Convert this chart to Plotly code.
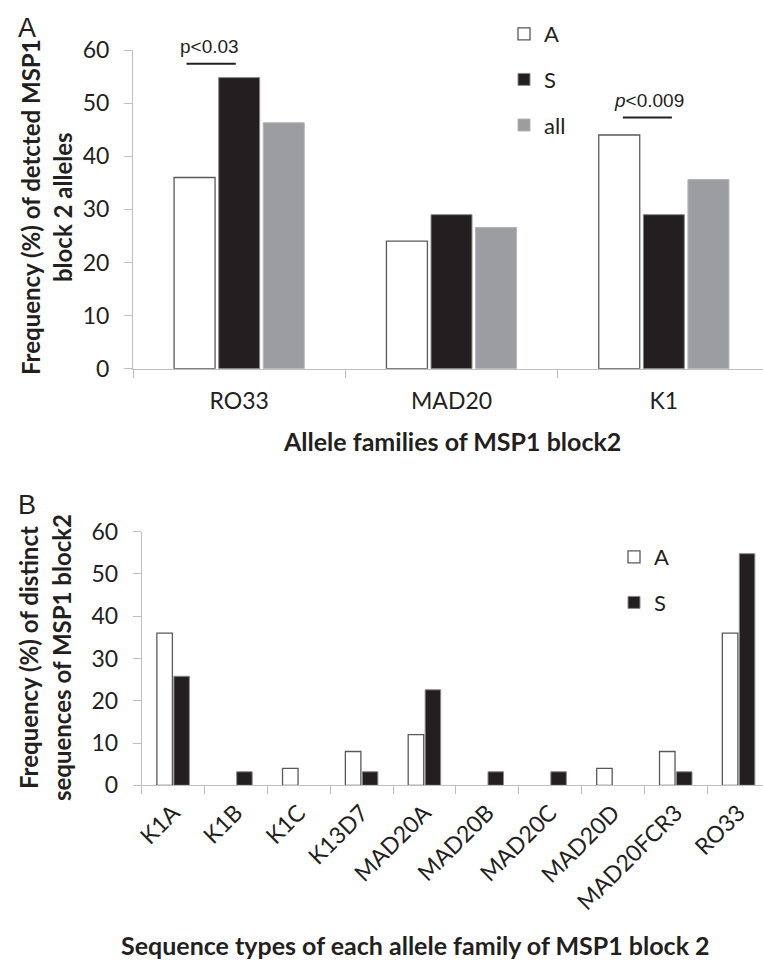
import plotly.graph_objects as go

# ---------------- data ----------------
families = ["RO33", "MAD20", "K1"]
fam_A = [36, 24, 44]
fam_S = [54.8, 29, 29]
fam_all = [46.3, 26.6, 35.6]

seq_types = ["K1A", "K1B", "K1C", "K13D7", "MAD20A", "MAD20B",
             "MAD20C", "MAD20D", "MAD20FCR3", "RO33"]
seq_A = [36, 0, 4, 8, 12, 0, 0, 4, 8, 36]
seq_S = [25.8, 3.2, 0, 3.2, 22.6, 3.2, 3.2, 0, 3.2, 54.8]

y_ticks = [0, 10, 20, 30, 40, 50, 60]

# ---------------- styles ----------------
W, H = 763, 964
WHITE_FILL, WHITE_LINE = "#ffffff", "#595959"
BLACK_FILL, BLACK_LINE = "#231f20", "#8a8a8a"
GREY_FILL, GREY_LINE = "#9c9da1", "#b3b3b3"
AXIS = "#bfbfbf"
TXT = "#231f20"
TICKFONT = dict(family="Lato", size=23, color=TXT)
YTITLEFONT = dict(family="Lato", size=24, color=TXT, weight="bold")
XTITLEFONT = dict(family="Lato", size=25, color=TXT, weight="bold")


def px_x(p):
    return p / W


def px_y(p):
    return 1 - p / H


def lw(values, w):
    # no outline for empty (zero) bars
    return [w if v else 0 for v in values]


# group geometry (in category units)
a_stride, a_width = 0.21, 0.193
b_stride, b_width = 0.27, 0.247

fig = go.Figure()

fig.add_trace(go.Bar(x=families, y=fam_A, name="A", xaxis="x", yaxis="y",
                     width=a_width, offset=-a_stride - a_width / 2,
                     marker=dict(color=WHITE_FILL, line=dict(color=WHITE_LINE, width=1.3)),
                     legend="legend", legendgroup="a1"))
fig.add_trace(go.Bar(x=families, y=fam_S, name="S", xaxis="x", yaxis="y",
                     width=a_width, offset=-a_width / 2,
                     marker=dict(color=BLACK_FILL, line=dict(color=BLACK_LINE, width=1)),
                     legend="legend", legendgroup="a2"))
fig.add_trace(go.Bar(x=families, y=fam_all, name="all", xaxis="x", yaxis="y",
                     width=a_width, offset=a_stride - a_width / 2,
                     marker=dict(color=GREY_FILL, line=dict(color=GREY_LINE, width=1)),
                     legend="legend", legendgroup="a3"))

fig.add_trace(go.Bar(x=seq_types, y=seq_A, name="A", xaxis="x2", yaxis="y2",
                     width=b_width, offset=-b_stride / 2 - b_width / 2,
                     marker=dict(color=WHITE_FILL,
                                 line=dict(color=WHITE_LINE, width=lw(seq_A, 1.3))),
                     legend="legend2", legendgroup="b1"))
fig.add_trace(go.Bar(x=seq_types, y=seq_S, name="S", xaxis="x2", yaxis="y2",
                     width=b_width, offset=b_stride / 2 - b_width / 2,
                     marker=dict(color=BLACK_FILL,
                                 line=dict(color=BLACK_LINE, width=lw(seq_S, 1))),
                     legend="legend2", legendgroup="b2"))

common_x = dict(type="category", showline=True, linecolor=AXIS, linewidth=1,
                ticks="outside", ticklen=8, tickcolor=AXIS, tickson="boundaries",
                tickfont=TICKFONT, showgrid=False, zeroline=False, automargin=False)
common_y = dict(range=[0, 60], tickvals=y_ticks, showline=True, linecolor=AXIS,
                linewidth=1, ticks="outside", ticklen=8, tickcolor=AXIS,
                tickfont=TICKFONT, showgrid=False, zeroline=False,
                ticklabelstandoff=10, automargin=False)

LEGFONT = dict(family="Lato", size=22, color=TXT)
fig.update_layout(
    width=W, height=H,
    margin=dict(l=0, r=0, t=0, b=0, autoexpand=False),
    paper_bgcolor="white", plot_bgcolor="white",
    barmode="group",
    xaxis=dict(domain=[px_x(133), 1], anchor="y", ticklabelstandoff=12,
               range=[-0.5, 2.5 - 7 / 212], **common_x),
    yaxis=dict(domain=[px_y(368.7), px_y(50)], anchor="x", **common_y),
    xaxis2=dict(domain=[px_x(141.7), 1], anchor="y2", tickangle=-45,
                ticklabelstandoff=4,
                range=[-0.5, 9.5 - 7 / 62.8], **common_x),
    yaxis2=dict(domain=[px_y(785.3), px_y(531.7)], anchor="x2", **common_y),
    legend=dict(x=px_x(504), y=px_y(13), xanchor="left", yanchor="top",
                font=LEGFONT, tracegroupgap=14, itemwidth=30,
                bgcolor="rgba(0,0,0,0)"),
    legend2=dict(x=px_x(614), y=px_y(536), xanchor="left", yanchor="top",
                 font=LEGFONT, tracegroupgap=14, itemwidth=30,
                 bgcolor="rgba(0,0,0,0)"),
)

ann = []


def paper_text(text, xc, yc, font, angle=0):
    return dict(text=text, xref="paper", yref="paper", x=px_x(xc), y=px_y(yc),
                xanchor="center", yanchor="middle", textangle=angle,
                showarrow=False, font=font)


LETTER = dict(family="Liberation Sans", size=27, color=TXT)
ann.append(paper_text("A", 27, 28, LETTER))
ann.append(paper_text("B", 27, 505, LETTER))
for txt, xc, yc in [("Frequency (%) of detcted MSP1", 30, 207),
                    ("block 2 alleles", 62, 207),
                    ("Frequency (%) of distinct", 28, 658),
                    ("sequences of MSP1 block2", 61, 658)]:
    ann.append(paper_text(txt, xc, yc, YTITLEFONT, angle=-90))
ann.append(paper_text("Allele families of MSP1 block2", 452, 441, XTITLEFONT))
ann.append(paper_text("Sequence types of each allele family of MSP1 block 2", 415, 945,
                      XTITLEFONT))
PFONT = dict(family="Liberation Sans", size=19, color=TXT)
ann.append(dict(text="p<0.03", xref="x", yref="paper", x=-0.139, y=px_y(46),
                xanchor="center", yanchor="middle", showarrow=False, font=PFONT))
ann.append(dict(text="<i>p</i><0.009", xref="x", yref="paper", x=1.929, y=px_y(101),
                xanchor="center", yanchor="middle", showarrow=False, font=PFONT))
fig.update_layout(annotations=ann)

fig.add_shape(type="line", xref="x", yref="y", x0=-0.248, x1=-0.016, y0=57.4, y1=57.4,
              line=dict(color=TXT, width=2))
fig.add_shape(type="line", xref="x", yref="y", x0=1.807, x1=2.038, y0=47.3, y1=47.3,
              line=dict(color=TXT, width=2))

fig.write_html("out.html", config={"displayModeBar": False},
               post_script="document.body.style.margin='0';"
                           "document.body.style.overflow='hidden';")
